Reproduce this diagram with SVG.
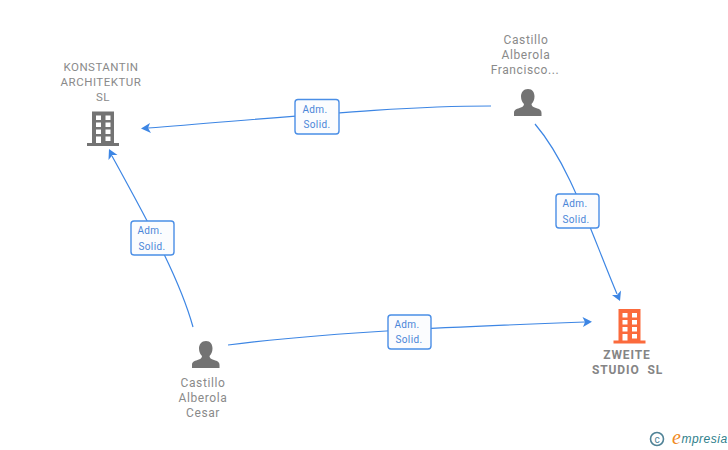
<svg xmlns="http://www.w3.org/2000/svg" width="728" height="450" viewBox="0 0 728 450">
<style>
text{font-family:Roboto,"Liberation Sans",sans-serif;font-size:12px;fill:#8a8a8a;text-anchor:middle;letter-spacing:.6px}
.n{font-size:11.500px;letter-spacing:.5px}
.b{font-weight:700;font-size:12px;fill:#858585;letter-spacing:.9px}
.c{fill:none;stroke:#3d86e4;stroke-width:1.2}
.a{fill:#3d86e4;stroke:none}
.lb{fill:#fbfcfe;stroke:#4a8ee6;stroke-width:1.400}
.lt{font-size:10px;fill:#4a86d8;letter-spacing:.4px}
.g{fill:#737373}
.o{fill:#fb6a3c}
.w{fill:#fff}
</style>
<defs>
<g id="bld">
<path d="M5 0H27V31.500H32V34.500H0V31.500H5Z"/>
<g class="w">
<rect x="9" y="4" width="5" height="4.500"/><rect x="18.500" y="4" width="5" height="4.500"/>
<rect x="9" y="11" width="5" height="4.500"/><rect x="18.500" y="11" width="5" height="4.500"/>
<rect x="9" y="18" width="5" height="4.500"/><rect x="18.500" y="18" width="5" height="4.500"/>
<rect x="9" y="25" width="5" height="6.500"/><rect x="18.500" y="25" width="5" height="4.500"/>
</g>
</g>
<g id="usr">
<path d="M14 0C18.500 0 20.500 3.500 20.500 7.500C20.500 11 19 13.500 17.500 15C17.500 17 19 18 22 19C25.500 20.200 27.500 21 27.500 24V27H0V24C0 21 2 20.200 5.500 19C8.500 18 10 17 10 15C8.500 13.500 7 11 7 7.500C7 3.500 9.500 0 14 0Z"/>
</g>
</defs>
<g id="connectors">
<path class="c" d="M491 106C400 106 300 116 148 128"/>
<path class="a" d="M141 128.500L150 123L148 128L151 133Z"/>
<path class="c" d="M193 327C180 280 150 225 112 156"/>
<path class="a" d="M109 149L117.500 155L112.500 155L108.500 160Z"/>
<path class="c" d="M228 345C330 332 450 327 585 322"/>
<path class="a" d="M592 321.700L583 327L585 322L582.500 317Z"/>
<path class="c" d="M535 124C570 165 590 230 617 294"/>
<path class="a" d="M620 301L612 295L617 295L621 290.500Z"/>
</g>
<g id="label-1"><rect class="lb" x="295" y="99.500" width="44" height="34.500" rx="3"/><text class="lt" x="315" y="113">Adm.</text><text class="lt" x="317" y="128">Solid.</text></g>
<g id="label-2"><rect class="lb" x="131" y="221" width="43" height="34" rx="3"/><text class="lt" x="150" y="234">Adm.</text><text class="lt" x="152" y="250">Solid.</text></g>
<g id="label-3"><rect class="lb" x="388" y="315" width="43" height="34" rx="3"/><text class="lt" x="407" y="328">Adm.</text><text class="lt" x="409" y="343">Solid.</text></g>
<g id="label-4"><rect class="lb" x="556" y="194" width="43" height="34" rx="3"/><text class="lt" x="575" y="207">Adm.</text><text class="lt" x="576" y="223">Solid.</text></g>
<g id="node-konstantin">
<use href="#bld" x="87" y="111.500" class="g"/>
<text class="n" x="101" y="71">KONSTANTIN</text>
<text class="n" x="101" y="86">ARCHITEKTUR</text>
<text class="n" x="103" y="101">SL</text>
</g>
<g id="node-francisco">
<use href="#usr" x="514" y="89" class="g"/>
<text x="526" y="44">Castillo</text>
<text x="526" y="59">Alberola</text>
<text x="525" y="74">Francisco...</text>
</g>
<g id="node-cesar">
<use href="#usr" x="192" y="341" class="g"/>
<text x="203" y="387">Castillo</text>
<text x="203" y="402">Alberola</text>
<text x="203" y="417">Cesar</text>
</g>
<g id="node-zweite">
<use href="#bld" x="613.500" y="309" class="o"/>
<text class="b" x="627" y="359">ZWEITE</text>
<text class="b" x="627.500" y="374" xml:space="preserve">STUDIO  SL</text>
</g>
<g id="credit">
<circle cx="657" cy="439" r="6.500" fill="none" stroke="#4f8296" stroke-width="1.600"/>
<text x="657" y="442.500" style="font-size:10px;fill:#4f8296;letter-spacing:0">c</text>
<text x="676.500" y="444" style="font-family:'Liberation Serif',serif;font-style:italic;font-size:20px;fill:#f08a24;letter-spacing:0">e</text>
<text x="704.500" y="443" style="font-family:'Liberation Sans',sans-serif;font-style:italic;font-size:12px;fill:#2f7f8c;letter-spacing:.5px">mpresia</text>
</g>
</svg>
